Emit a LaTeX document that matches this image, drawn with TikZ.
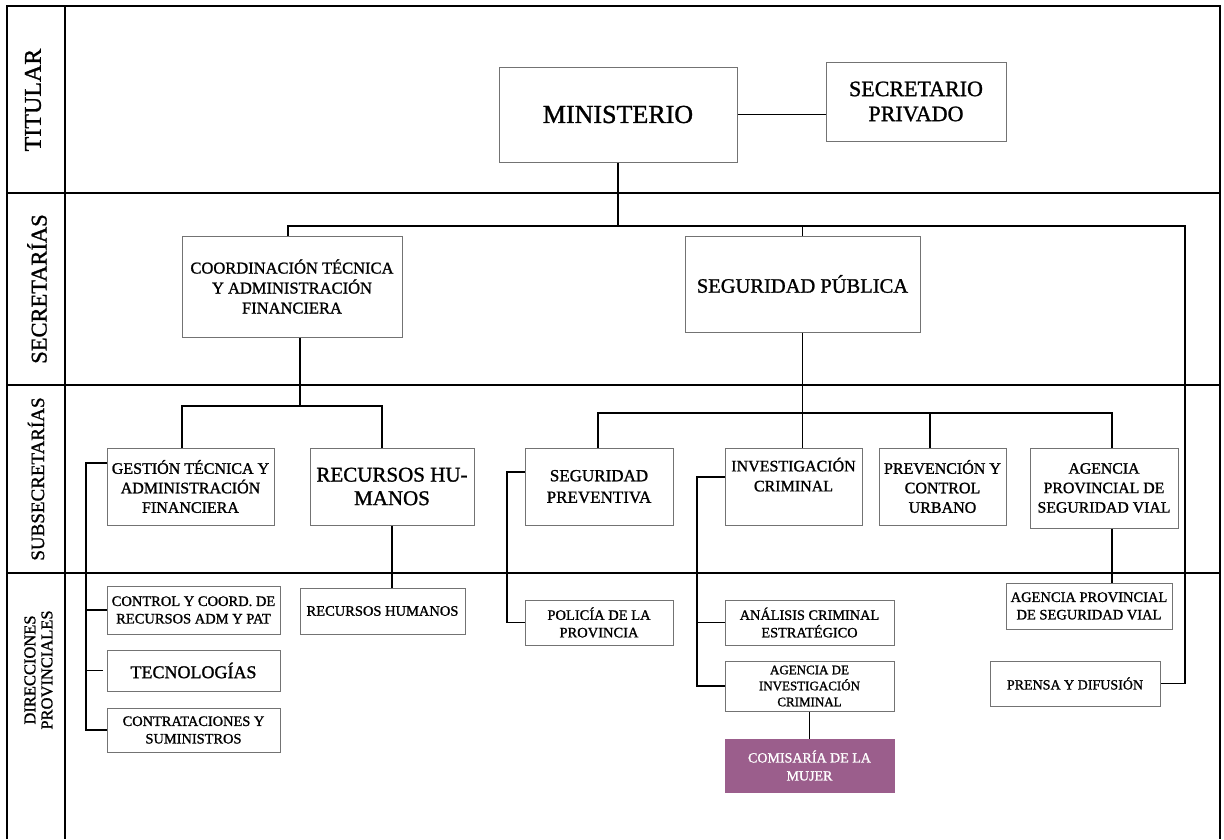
\documentclass[tikz,border=0pt]{standalone}
\usepackage{fontspec}
\setmainfont{Liberation Serif}[FakeBold=1.2]
\usetikzlibrary{calc}
\definecolor{mujer}{RGB}{155,94,140}
\newcommand{\fsz}[2]{\fontsize{#1}{#2}\selectfont}
\tikzstyle{unit}=[draw=black!55,line width=1pt,align=center,inner sep=1pt]
\tikzstyle{link}=[draw,black,line width=1.7pt]
\tikzstyle{frame}=[draw,black,line width=1.7pt]
\tikzstyle{band}=[rotate=90,align=center]

\begin{document}
\begin{tikzpicture}[x=1pt,y=-1pt]
\useasboundingbox (0,0) rectangle (1224,839);

% frame and rows
\draw[frame] (7,839) -- (7,6) -- (1220,6) -- (1220,839);
\draw[frame] (65,6) -- (65,839);
\foreach \yy in {193,385,573}
    \draw[frame] (7,\yy) -- (1220,\yy);

\foreach \xx/\yy/\name/\fsize/\txt in {33/100/titular/24/TITULAR, 37/289/secretarias/22.5/SECRETARÍAS, 36/479/subsecretarias/19/SUBSECRETARÍAS}
    \node[band,font=\fsz{\fsize}{\fsize}] (\name) at (\xx,\yy) {\txt};
\node[band,font=\fsz{16.5}{17}] (direcciones) at (38.5,670) {DIRECCIONES\\PROVINCIALES};

% titular
\node[unit,minimum width=238pt,minimum height=95pt,font=\fsz{26}{31}] (ministerio) at (618,114.5) {MINISTERIO};
\node[unit,minimum width=180pt,minimum height=79pt,font=\fsz{22}{25}] (secretario) at (916,101.5) {SECRETARIO\\PRIVADO};

% secretarias
\node[unit,minimum width=220pt,minimum height=101pt,font=\fsz{16.5}{20}] (coord) at (292,286.5) {COORDINACIÓN TÉCNICA\\Y ADMINISTRACIÓN\\FINANCIERA};
\node[unit,minimum width=235pt,minimum height=96pt,font=\fsz{20.5}{24}] (segpub) at (802.5,284) {SEGURIDAD PÚBLICA};

% subsecretarias
\node[unit,minimum width=167pt,minimum height=77pt,font=\fsz{16}{19.5}] (gestion) at (190.5,486.5) {GESTIÓN TÉCNICA Y\\ADMINISTRACIÓN\\FINANCIERA};
\node[unit,minimum width=164pt,minimum height=77pt,font=\fsz{21}{23.5}] (rrhh) at (392,486.5) {RECURSOS HU-\\MANOS};
\node[unit,minimum width=148pt,minimum height=77pt,font=\fsz{17}{21.5}] (segprev) at (599,486.5) {SEGURIDAD\\PREVENTIVA};
\node[unit,minimum width=137pt,minimum height=77pt,font=\fsz{16}{20}] (invcrim) at (793.5,486.5) {INVESTIGACIÓN\\CRIMINAL\\[4pt]};
\node[unit,minimum width=127pt,minimum height=77pt,font=\fsz{16}{19.5}] (prevcon) at (942.5,486.5) {PREVENCIÓN Y\\CONTROL\\URBANO};
\node[unit,minimum width=148pt,minimum height=80pt,font=\fsz{15.8}{19.5}] (agprov) at (1104,488) {AGENCIA\\PROVINCIAL DE\\SEGURIDAD VIAL};

% direcciones provinciales
\node[unit,minimum width=173pt,minimum height=48pt,font=\fsz{14.5}{17.5}] (control) at (193.5,610) {CONTROL Y COORD. DE\\RECURSOS ADM Y PAT};
\node[unit,minimum width=173pt,minimum height=41pt,font=\fsz{18}{20}] (tecno) at (193.5,670.5) {TECNOLOGÍAS};
\node[unit,minimum width=173pt,minimum height=44pt,font=\fsz{14.4}{17.5}] (contrat) at (193.5,730) {CONTRATACIONES Y\\SUMINISTROS};
\node[unit,minimum width=165pt,minimum height=46pt,font=\fsz{14.5}{17}] (rrhhdir) at (382.5,611) {RECURSOS HUMANOS};
\node[unit,minimum width=148pt,minimum height=45pt,font=\fsz{14.5}{17.5}] (policia) at (599,622.5) {POLICÍA DE LA\\PROVINCIA};
\node[unit,minimum width=169pt,minimum height=45pt,font=\fsz{14.3}{17.5}] (analisis) at (809.5,622.5) {ANÁLISIS CRIMINAL\\ESTRATÉGICO};
\node[unit,minimum width=169pt,minimum height=50pt,font=\fsz{13}{16}] (agenciainv) at (809.5,686) {AGENCIA DE\\INVESTIGACIÓN\\CRIMINAL};
\node[unit,minimum width=169pt,minimum height=53pt,font=\fsz{14}{18},fill=mujer,draw=mujer,text=white] (comisaria) at (809.5,765.5) {COMISARÍA DE LA\\MUJER};
\node[unit,minimum width=166pt,minimum height=46pt,font=\fsz{14.5}{17.5}] (agvial) at (1089,606) {AGENCIA PROVINCIAL\\DE SEGURIDAD VIAL};
\node[unit,minimum width=170pt,minimum height=45pt,font=\fsz{14}{17}] (prensa) at (1075,683.5) {PRENSA Y DIFUSIÓN};

% buses
\coordinate (bus1L) at (288,226);
\coordinate (bus1R) at (1185,226);
\coordinate (bus2L) at (182,406);
\coordinate (bus2M) at (300,406);
\coordinate (bus2R) at (382,406);
\coordinate (bus3L) at (598,413);
\coordinate (bus3P) at (930,413);
\coordinate (bus3R) at (1112,413);
\coordinate (t1) at (86,463);
\coordinate (t2) at (507,472);
\coordinate (t3) at (697,477);

% connectors
\draw[link] (ministerio.east) -- (ministerio.east -| secretario.west);
\draw[link] (ministerio.south) -- (ministerio.south |- bus1L);
\draw[link] (coord.north -| bus1L) -- (bus1L) -- (bus1R) -- (prensa.east -| bus1R) -- (prensa.east);
\draw[link] (segpub.north) -- (segpub.north |- bus1L);

\draw[link] (coord.south -| bus2M) -- (bus2M);
\draw[link] (gestion.north -| bus2L) -- (bus2L) -- (bus2R) -- (rrhh.north -| bus2R);
\draw[link] (segpub.south) -- (segpub.south |- invcrim.north);
\draw[link] (segprev.north -| bus3L) -- (bus3L) -- (bus3R) -- (agprov.north -| bus3R);
\draw[link] (bus3P) -- (prevcon.north -| bus3P);

\draw[link] (rrhh.south) -- (rrhh.south |- rrhhdir.north);
\draw[link] (bus3R |- agprov.south) -- (bus3R |- agvial.north);
\draw[link] (agenciainv.south) -- (comisaria.north);

\draw[link] (gestion.west |- t1) -- (t1) -- (t1 |- contrat.west) -- (contrat.west);
\draw[link] (t1 |- control.west) -- (control.west);
\draw[link] (t1 |- tecno.west) -- ([xshift=-4pt]tecno.west);
\draw[link] (segprev.west |- t2) -- (t2) -- (t2 |- policia.west) -- (policia.west);
\draw[link] (invcrim.west |- t3) -- (t3) -- (t3 |- agenciainv.west) -- (agenciainv.west);
\draw[link] (t3 |- analisis.west) -- (analisis.west);

\end{tikzpicture}
\end{document}
